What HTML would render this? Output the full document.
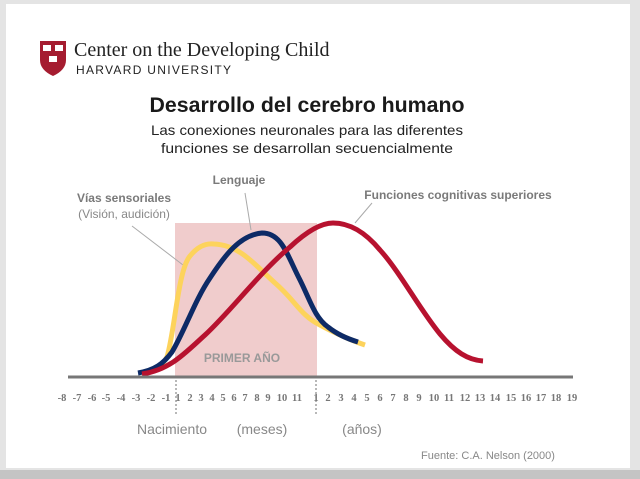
<!DOCTYPE html>
<html><head><meta charset="utf-8"><style>
body{margin:0;width:640px;height:479px;background:#e6e6e6;overflow:hidden;font-family:"Liberation Sans",sans-serif}
</style></head><body>
<svg width="640" height="479" viewBox="0 0 640 479" xmlns="http://www.w3.org/2000/svg" style="position:absolute;left:0;top:0">
<rect x="0" y="0" width="640" height="479" fill="#e4e4e4"/>
<rect x="6" y="4" width="624" height="464" fill="#fff"/>
<rect x="0" y="470" width="640" height="9" fill="#c4c4c4"/>
<path d="M40 41 H66 V60 Q66 70 53 76 Q40 70 40 60 Z" fill="#a51c30"/>
<rect x="43" y="45" width="8" height="6" fill="#fff"/><rect x="55" y="45" width="8" height="6" fill="#fff"/><rect x="49" y="56" width="8" height="6" fill="#fff"/>
<text x="74" y="56" font-family="Liberation Serif,serif" font-size="20" fill="#222">Center on the Developing Child</text>
<text x="76" y="74" font-size="12" letter-spacing="1.3" fill="#222">HARVARD UNIVERSITY</text>
<text x="307" y="112" text-anchor="middle" font-size="21" font-weight="bold" fill="#1a1a1a" textLength="315" lengthAdjust="spacingAndGlyphs">Desarrollo del cerebro humano</text>
<text x="307" y="135" text-anchor="middle" font-size="14" fill="#222" textLength="312" lengthAdjust="spacingAndGlyphs">Las conexiones neuronales para las diferentes</text>
<text x="307" y="153" text-anchor="middle" font-size="14" fill="#222" textLength="292" lengthAdjust="spacingAndGlyphs">funciones se desarrollan secuencialmente</text>
<rect x="175" y="223" width="142" height="154" fill="#f0cccc"/>
<text x="242" y="362" text-anchor="middle" font-size="12" font-weight="bold" fill="#999">PRIMER AÑO</text>
<text x="124" y="202" text-anchor="middle" font-size="12" font-weight="bold" fill="#7a7a7a">Vías sensoriales</text>
<text x="124" y="218" text-anchor="middle" font-size="12" fill="#888">(Visión, audición)</text>
<text x="239" y="184" text-anchor="middle" font-size="12" font-weight="bold" fill="#7a7a7a">Lenguaje</text>
<text x="458" y="199" text-anchor="middle" font-size="12" font-weight="bold" fill="#7a7a7a">Funciones cognitivas superiores</text>
<g stroke="#aaa" stroke-width="1"><line x1="132" y1="226" x2="183" y2="265"/><line x1="245" y1="193" x2="251" y2="230"/><line x1="372" y1="203" x2="355" y2="223"/></g>
<g fill="none" stroke-width="5" stroke-linecap="butt">
<path d="M142 374 C158 372 162 365 167 357 C175 330 178 270 190 256 C198 246 206 243 214 244 C240 245 255 265 275 283 C295 300 300 315 320 325 C335 333 350 340 365 345" stroke="#fdd35c"/>
<path d="M138 373 C155 370 163 364 172 352 C185 330 195 300 210 278 C225 255 240 235 262 233 C282 233 287 255 300 280 C310 300 315 318 328 327 C338 335 348 339 358 342" stroke="#0d2a66"/>
<path d="M142 374 C170 370 185 353 205 335 C230 312 260 272 290 247 C305 233 320 223 333 223 C350 223 365 232 380 250 C400 272 420 310 440 334 C455 352 468 360 483 361" stroke="#b7122f"/>
</g>
<line x1="68" y1="377" x2="573" y2="377" stroke="#777" stroke-width="3"/>
<g stroke="#888" stroke-width="1.2" stroke-dasharray="2 2"><line x1="176" y1="380" x2="176" y2="416"/><line x1="316" y1="380" x2="316" y2="416"/></g>
<g font-family="Liberation Serif,serif" font-size="10.5" font-weight="bold" fill="#777" text-anchor="middle">
<text x="62" y="401">-8</text><text x="77" y="401">-7</text><text x="92" y="401">-6</text><text x="106" y="401">-5</text><text x="121" y="401">-4</text><text x="136" y="401">-3</text><text x="151" y="401">-2</text><text x="166" y="401">-1</text>
<text x="178" y="401">1</text><text x="190" y="401">2</text><text x="201" y="401">3</text><text x="212" y="401">4</text><text x="223" y="401">5</text><text x="234" y="401">6</text><text x="245" y="401">7</text><text x="257" y="401">8</text><text x="268" y="401">9</text><text x="282" y="401">10</text><text x="297" y="401">11</text>
<text x="316" y="401">1</text><text x="328" y="401">2</text><text x="341" y="401">3</text><text x="354" y="401">4</text><text x="367" y="401">5</text><text x="380" y="401">6</text><text x="393" y="401">7</text><text x="406" y="401">8</text><text x="419" y="401">9</text>
<text x="434" y="401">10</text><text x="449" y="401">11</text><text x="465" y="401">12</text><text x="480" y="401">13</text><text x="495" y="401">14</text><text x="511" y="401">15</text><text x="526" y="401">16</text><text x="541" y="401">17</text><text x="556" y="401">18</text><text x="572" y="401">19</text>
</g>
<text x="172" y="434" text-anchor="middle" font-size="14" fill="#888">Nacimiento</text>
<text x="262" y="434" text-anchor="middle" font-size="14" fill="#888">(meses)</text>
<text x="362" y="434" text-anchor="middle" font-size="14" fill="#888">(años)</text>
<text x="488" y="459" text-anchor="middle" font-size="11" fill="#888">Fuente: C.A. Nelson (2000)</text>
</svg>
</body></html>
